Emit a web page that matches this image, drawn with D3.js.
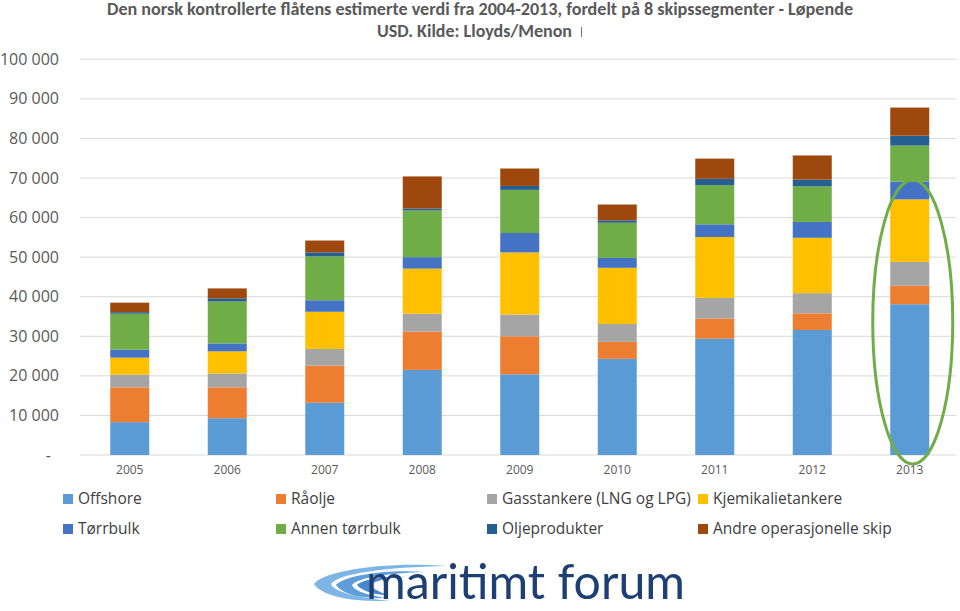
<!DOCTYPE html>
<html><head><meta charset="utf-8">
<script src="https://cdn.jsdelivr.net/npm/d3@7"></script>
<style>html,body{margin:0;padding:0;background:#fff;}svg{display:block;}</style>
</head><body>
<script>
const years = ["2005","2006","2007","2008","2009","2010","2011","2012","2013"];
const seriesNames = ["Offshore","Råolje","Gasstankere (LNG og LPG)","Kjemikalietankere","Tørrbulk","Annen tørrbulk","Oljeprodukter","Andre operasjonelle skip"];
const offshore   = [8300, 9300, 13200, 21500, 20400, 24300, 29400, 31600, 38100];
const raolje     = [8800, 7800, 9400, 9700, 9600, 4300, 5100, 4200, 4700];
const gass       = [3200, 3500, 4200, 4500, 5500, 4500, 5200, 5100, 6000];
const kjemikalie = [4300, 5600, 9400, 11400, 15700, 14200, 15400, 14000, 15800];
const torrbulk   = [2000, 2000, 2900, 2900, 4900, 2500, 3200, 4000, 4500];
const annen      = [9100, 10600, 11100, 11800, 10900, 8900, 9900, 9000, 9100];
const oljeprod   = [400, 800, 1000, 500, 1000, 600, 1600, 1700, 2500];
const andre      = [2400, 2500, 3000, 8100, 4400, 4000, 5100, 6100, 7100];
const yTicks = [0,10000,20000,30000,40000,50000,60000,70000,80000,90000,100000];
const colors = ["#5B9BD5","#ED7D31","#A5A5A5","#FFC000","#4472C4","#70AD47","#255E91","#9E480E"];
const titleLines = ["Den norsk kontrollerte flåtens estimerte verdi fra 2004-2013, fordelt på 8 skipssegmenter - Løpende","USD. Kilde: Lloyds/Menon"];

const allSeries = [offshore, raolje, gass, kjemikalie, torrbulk, annen, oljeprod, andre];
const keys = seriesNames;
const table = years.map((y,i)=>{const o={year:y}; keys.forEach((k,j)=>o[k]=allSeries[j][i]); return o;});

const W=960,H=611;
const svg=d3.select("body").append("svg").attr("width",W).attr("height",H);
const font="Carlito, 'Liberation Sans Narrow', 'Open Sans', sans-serif";

const x=d3.scaleBand().domain(years).range([81,958.5]).paddingInner(0.6).paddingOuter(0.3);
const y=d3.scaleLinear().domain([0,100000]).range([455,59.3]);

// gridlines
svg.append("g").selectAll("line").data(yTicks).join("line")
  .attr("x1",80).attr("x2",956).attr("y1",d=>y(d)).attr("y2",d=>y(d))
  .attr("stroke","#D9D9D9").attr("stroke-width",1);

// y labels
const fmt=d=>d===0?"-":d3.format(",")(d).replace(/,/g," ");
svg.append("g").selectAll("text").data(yTicks).join("text")
  .attr("x",d=>d===0?51:59).attr("y",d=>y(d)).attr("dy","0.35em")
  .attr("text-anchor","end").attr("fill","#595959")
  .style("font-family","'Open Sans', sans-serif").style("font-size","16px")
  .text(fmt);

// stacked bars
const stack=d3.stack().keys(keys)(table);
svg.append("g").selectAll("g").data(stack).join("g")
  .attr("fill",(d,i)=>colors[i])
  .selectAll("rect").data(d=>d).join("rect")
  .attr("x",d=>x(d.data.year)).attr("width",x.bandwidth())
  .attr("y",d=>y(d[1])).attr("height",d=>y(d[0])-y(d[1]));

// x labels
svg.append("g").selectAll("text").data(years).join("text")
  .attr("x",d=>x(d)+x.bandwidth()/2).attr("y",474)
  .attr("text-anchor","middle").attr("fill","#595959")
  .style("font-family","'Liberation Sans Narrow', 'Open Sans', sans-serif").style("font-size","12px")
  .text(d=>d);

// highlight ellipse around 2013
const lastYear=years[years.length-1];
svg.append("ellipse")
  .attr("cx",x(lastYear)+x.bandwidth()/2+3).attr("cy",322)
  .attr("rx",40).attr("ry",142)
  .attr("fill","none").attr("stroke","#70AD47").attr("stroke-width",3);

// title
const tl=svg.append("g");
tl.append("text").attr("x",480).attr("y",14.5).attr("text-anchor","middle")
  .attr("fill","#595959").style("font-family",font).style("font-weight","bold").style("font-size","17px")
  .attr("textLength",746).attr("lengthAdjust","spacingAndGlyphs").text(titleLines[0]);
tl.append("text").attr("x",474.5).attr("y",37).attr("text-anchor","middle")
  .attr("fill","#595959").style("font-family",font).style("font-weight","bold").style("font-size","17px")
  .attr("textLength",195).attr("lengthAdjust","spacingAndGlyphs").text(titleLines[1]);
tl.append("line").attr("x1",581.5).attr("x2",581.5).attr("y1",27).attr("y2",37).attr("stroke","#777").attr("stroke-width",1);

// legend
const legX=[63,276,487,698], legY=[499,529];
const lg=svg.append("g").selectAll("g").data(keys).join("g")
  .attr("transform",(d,i)=>`translate(${legX[i%4]},${legY[Math.floor(i/4)]})`);
lg.append("rect").attr("x",0).attr("y",-5).attr("width",10).attr("height",10).attr("fill",(d,i)=>colors[i]);
lg.append("text").attr("x",15).attr("y",0).attr("dy","0.35em").attr("fill","#404040")
  .style("font-family","'Open Sans', sans-serif").style("font-size","15.5px").text(d=>d);

// logo
const logo=svg.append("g");
const sw=[
  {c:"#7DB6E6", d:"M447,566 C380,561 322,572 314,584 C322,596 350,602 390,601 C354,597 333,591 331,584 C337,574 385,567 447,566 Z"},
  {c:"#5E9FD9", d:"M425,572 C385,569 343,576 336,585 C342,594 362,599 385,598 C364,594 353,590 352,585 C357,578 388,573 425,572 Z"},
  {c:"#4A8ACB", d:"M405,577 C382,576 362,580 357,585 C362,591 374,595 388,595 C377,591 372,588 371,585 C374,581 386,578 405,577 Z"}
];
logo.selectAll("path").data(sw).join("path").attr("d",d=>d.d).attr("fill",d=>d.c);
logo.append("text").attr("x",366).attr("y",599).attr("fill","#1D3F73")
  .style("font-family","Lato, sans-serif").style("font-size","48px")
  .attr("textLength",319).attr("lengthAdjust","spacingAndGlyphs").text("maritimt forum");
</script>
</body></html>
